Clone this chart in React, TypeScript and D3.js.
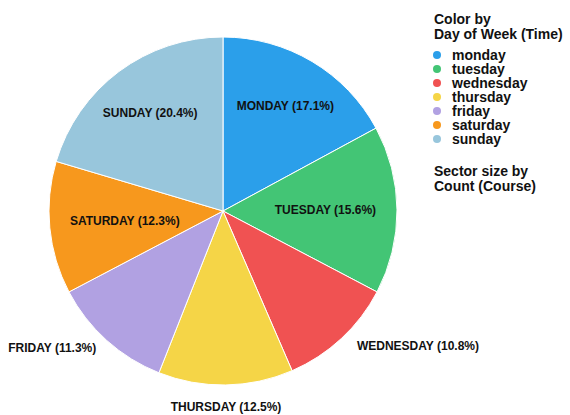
import React, { useEffect, useRef } from 'react'
import * as d3 from 'd3'

const days = ['monday', 'tuesday', 'wednesday', 'thursday', 'friday', 'saturday', 'sunday']
const shares = [17.1, 15.6, 10.8, 12.5, 11.3, 12.3, 20.4]
const colors = ['#2b9fea', '#43c575', '#f05252', '#f5d547', '#b1a1e2', '#f7981d', '#98c6dc']
// slices whose label goes outside the pie
const outside = ['wednesday', 'thursday', 'friday']

const W = 570
const H = 415

export default function App() {
  const ref = useRef<SVGSVGElement>(null)

  useEffect(() => {
    const svg = d3.select(ref.current)
    svg.selectAll('*').remove()

    const cx = 223
    const cy = 211
    const R = 174
    const font = 'Liberation Sans, Arial, sans-serif'

    const data = days.map((d, i) => ({ day: d, value: shares[i], color: colors[i] }))

    const pie = d3.pie<any>()
      .value(d => d.value)
      .sort(null)

    const arc = d3.arc<any>().innerRadius(0).outerRadius(R)

    const g = svg.append('g').attr('transform', `translate(${cx},${cy})`)

    const arcs = pie(data)

    g.selectAll('path.slice')
      .data(arcs)
      .enter()
      .append('path')
      .attr('class', 'slice')
      .attr('d', arc)
      .attr('fill', d => d.data.color)
      .attr('stroke', '#fff')
      .attr('stroke-width', 1)

    arcs.forEach(a => {
      const mid = (a.startAngle + a.endAngle) / 2
      const sx = Math.sin(mid)
      const cyy = -Math.cos(mid)
      const label = `${a.data.day.toUpperCase()} (${a.data.value.toFixed(1)}%)`
      const t = g.append('text')
        .attr('font-family', font)
        .attr('font-weight', 'bold')
        .attr('font-size', 12)
        .attr('fill', '#111')
        .text(label)
      if (outside.includes(a.data.day)) {
        const r = R * 1.09
        const x = sx * r
        const y = cyy * r
        const anchor = Math.abs(sx) < 0.1 ? 'middle' : sx > 0 ? 'start' : 'end'
        t.attr('x', x + (anchor === 'start' ? 5 : 0))
          .attr('y', y + (Math.abs(sx) < 0.1 ? 10 : 0))
          .attr('text-anchor', anchor)
      } else {
        const w = (t.node() as SVGTextElement).getComputedTextLength()
        let r = R * 0.7
        // keep the text inside the circle horizontally
        const limit = R * 0.88
        if (Math.abs(sx * r) + w / 2 > limit) {
          r = (limit - w / 2) / Math.abs(sx)
        }
        t.attr('x', sx * r)
          .attr('y', cyy * r + 4)
          .attr('text-anchor', 'middle')
      }
    })

    // legend
    const lg = svg.append('g').attr('font-family', font).attr('font-weight', 'bold').attr('fill', '#111')
    lg.append('text').attr('x', 434).attr('y', 24).attr('font-size', 14).text('Color by')
    lg.append('text').attr('x', 434).attr('y', 39).attr('font-size', 14).text('Day of Week (Time)')

    const item = lg.selectAll('g.item')
      .data(data)
      .enter()
      .append('g')
      .attr('class', 'item')
      .attr('transform', (d, i) => `translate(0,${55 + i * 14})`)
    item.append('circle').attr('cx', 437).attr('cy', 0).attr('r', 4).attr('fill', d => d.color)
    item.append('text').attr('x', 452).attr('y', 5).attr('font-size', 14).text(d => d.day)

    lg.append('text').attr('x', 434).attr('y', 176).attr('font-size', 14).text('Sector size by')
    lg.append('text').attr('x', 434).attr('y', 191).attr('font-size', 14).text('Count (Course)')
  }, [])

  return <svg ref={ref} width={W} height={H} style={{ position: 'absolute', left: 0, top: 0 }} />
}
